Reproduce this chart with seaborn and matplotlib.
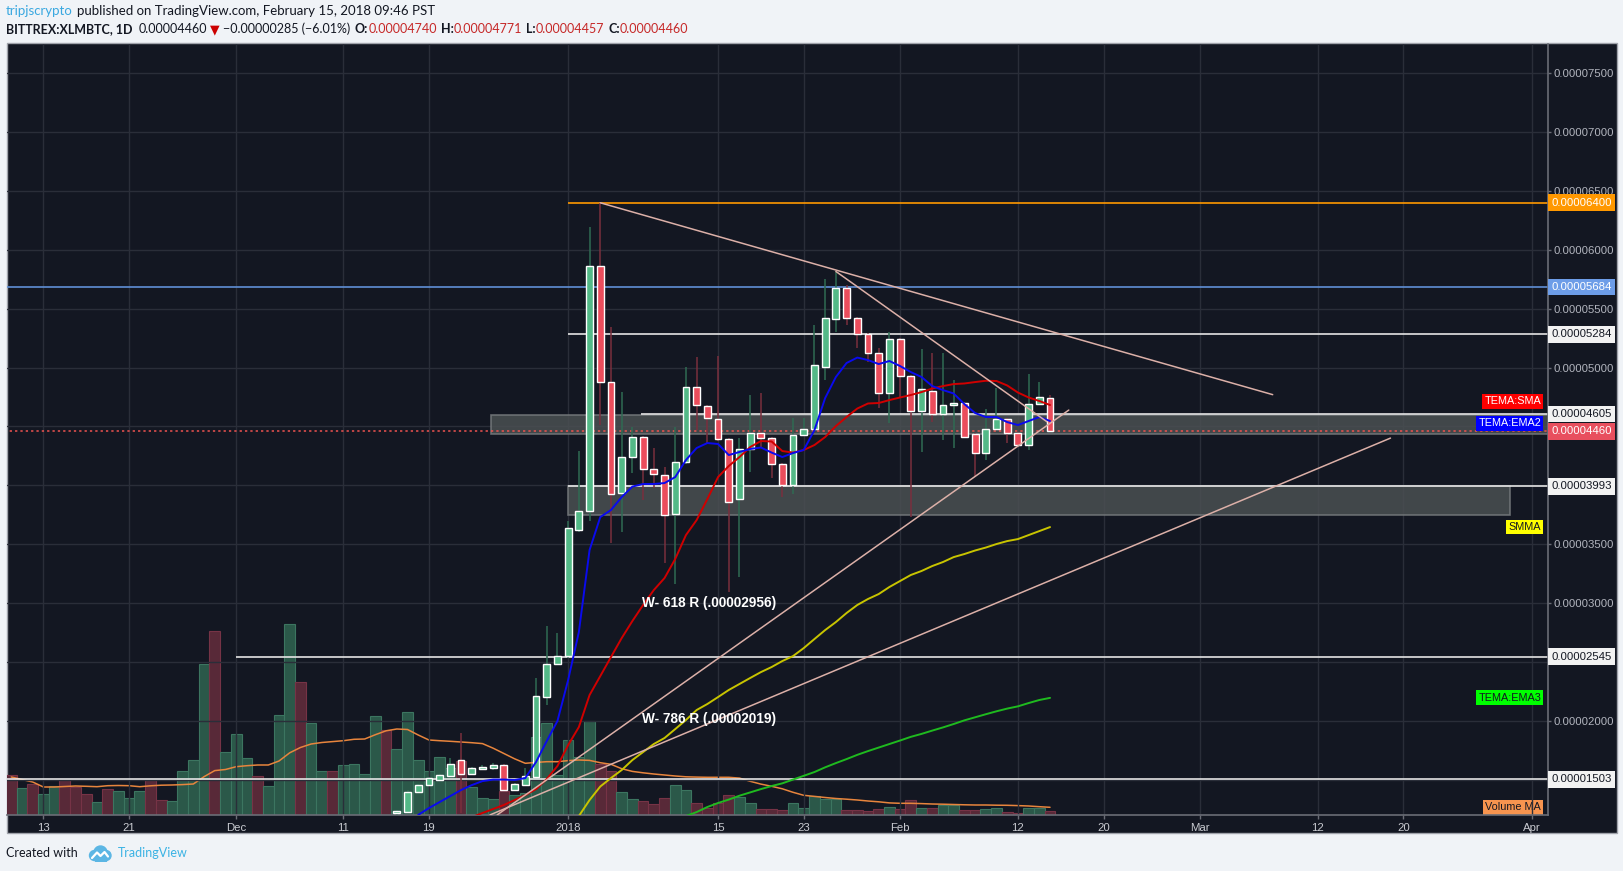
import numpy as np
import pandas as pd
import matplotlib
matplotlib.use("Agg")
import matplotlib.pyplot as plt
import matplotlib.dates as mdates
import matplotlib.transforms as mtransforms
from matplotlib.patches import Rectangle, Circle
import seaborn as sns

# ---- data (prices in satoshi, 1e-8 BTC) ----
candle_start = "2017-12-16"
c_open = [1215, 1227, 1396, 1453, 1496, 1530, 1666, 1547, 1589, 1595, 1623, 1411, 1453, 1524, 2201, 2481,
          2549, 3620, 3781, 5863, 4880, 3934, 4240, 4413, 4136, 4087, 3756, 4198, 4835, 4673, 4563, 4393,
          3883, 4308, 4444, 4402, 4181, 4002, 4427, 4478, 5005, 5413, 5676, 5421, 5285, 5126, 4783,
          5243, 4928, 4633, 4801, 4605, 4679, 4701, 4436, 4277, 4478, 4563, 4444, 4342, 4690, 4740]
c_high = [1245, 1410, 1465, 1525, 1550, 1683, 1898, 1610, 1620, 1640, 1630, 1470, 1598, 2363, 2804, 2745,
          3700, 4291, 6197, 6400, 5347, 4795, 4498, 4420, 4317, 4158, 4498, 5007, 5092, 4680, 5101, 4400,
          4402, 4767, 4786, 4410, 4190, 4571, 4571, 5362, 5752, 5814, 5701, 5430, 5290, 5166, 5305,
          5250, 4935, 5158, 5124, 5126, 4894, 4710, 4445, 4648, 4826, 4570, 4450, 4945, 4880, 4771]
c_low = [1190, 1215, 1385, 1445, 1485, 1520, 1215, 1540, 1580, 1585, 1400, 1400, 1445, 1510, 2133, 2470,
         2530, 3600, 3700, 4512, 3510, 3605, 4104, 3875, 3977, 3337, 3160, 4180, 4469, 4359, 4380, 3090,
         3223, 4115, 4317, 4062, 3900, 3926, 4420, 4470, 4894, 5305, 5362, 5166, 5050, 4656, 4529,
         4752, 3733, 4285, 4540, 4385, 4317, 4400, 4073, 4215, 4470, 4359, 4330, 4300, 4680, 4457]
c_close = [1235, 1396, 1453, 1513, 1538, 1632, 1547, 1598, 1609, 1623, 1411, 1462, 1530, 2210, 2481, 2549,
           3637, 3781, 5863, 4880, 3926, 4243, 4413, 4136, 4096, 3747, 4198, 4835, 4682, 4571, 4393, 3858,
           4308, 4444, 4402, 4181, 4002, 4427, 4478, 5022, 5421, 5676, 5421, 5285, 5126, 4786, 5243,
           4928, 4633, 4818, 4605, 4682, 4701, 4413, 4277, 4478, 4563, 4444, 4342, 4690, 4752, 4460]

# TEMA indicator lines
ema2_start = "2017-12-18"
tema_ema2 = [1200, 1258, 1309, 1360, 1411, 1453, 1487, 1500, 1500, 1496, 1513, 1649, 1827, 1997,
             2346, 2753, 3450, 3730, 3790, 3900, 3989, 4011, 4011, 4019, 4070, 4215, 4317, 4359, 4351,
             4257, 4283, 4308, 4321, 4278, 4240, 4274, 4300, 4469, 4741, 4920, 5039, 5085, 5064, 5030,
             5056, 5013, 4962, 4920, 4843, 4809, 4780, 4690, 4614, 4580, 4580, 4537, 4512, 4546, 4580, 4546]
sma_start = "2017-12-23"
tema_sma = [1180, 1216, 1250, 1284, 1326, 1368, 1419, 1504, 1615, 1793, 1946, 2218, 2379, 2541, 2702,
            2847, 2983, 3110, 3212, 3374, 3577, 3705, 3883, 4070, 4164, 4240, 4325, 4376, 4372, 4291,
            4278, 4300, 4342, 4410, 4503, 4580, 4652, 4695, 4699, 4724, 4746, 4767, 4792, 4822, 4843,
            4860, 4865, 4877, 4888, 4886, 4848, 4788, 4746, 4716, 4682]
smma_start = "2018-01-02"
smma = [1190, 1326, 1441, 1513, 1581, 1666, 1734, 1802, 1853, 1929, 2006, 2091, 2142, 2201, 2261,
        2312, 2363, 2413, 2456, 2507, 2549, 2617, 2694, 2770, 2838, 2915, 2983, 3034, 3076, 3136,
        3187, 3238, 3272, 3314, 3348, 3390, 3416, 3446, 3471, 3501, 3526, 3543, 3577, 3611, 3645]
ema3_start = "2018-01-12"
tema_ema3 = [1190, 1224, 1267, 1301, 1330, 1363, 1391, 1419, 1445, 1468, 1500, 1532, 1564, 1604, 1640,
             1674, 1710, 1742, 1772, 1802, 1832, 1863, 1888, 1916, 1943, 1972, 2003, 2029, 2055, 2080,
             2103, 2122, 2150, 2176, 2194]

# volume (relative units) and its moving average
vol_start = "2017-11-10"
volume = [400, 270, 310, 210, 290, 350, 280, 210, 130, 260, 240, 170, 240, 350, 150, 140, 440, 550, 1510, 1840, 630,
          810, 570, 390, 290, 1000, 1910, 1330, 920, 440, 440, 500, 510, 410, 990, 850, 660, 1030, 550, 440, 580,
          470, 540, 280, 170, 160, 240, 200, 220, 780, 920, 400,
          750, 580, 940, 510, 440, 230, 160, 140, 110, 170, 300, 250, 120, 70, 120, 200, 180, 120, 60, 60,
          50, 120, 70, 190, 160, 160, 50, 50, 40, 60, 80,
          60, 150, 70, 70, 100, 100, 50, 50, 60, 70, 30, 20, 70, 70, 40]
vol_dir = ("DUDUUDDDUDUUUDDUUUUDU"
           "UUDUUUDUUDUUUUDUUUUUUDUUUDUUUUU"
           "UUUDDUUDDDUUDDDDUUDDDUUUUUDDDDU"
           "DDUDUUDDUUDDUUD")
volume_ma = [380, 355, 330, 280, 280, 285, 290, 287, 283, 293, 295, 293, 283, 292, 298, 300, 304, 310, 383, 444, 455,
             483, 493, 500, 500, 540, 622, 675, 710, 725, 734, 743, 757, 760, 803, 842, 860, 855, 800, 750, 743,
             737, 730, 723, 714, 668, 615, 562, 517, 526, 533, 533,
             544, 550, 546, 523, 507, 463, 436, 422, 410, 400, 390, 382, 379, 377, 377, 377, 369, 337, 309, 287,
             262, 227, 197, 186, 175, 165, 158, 150, 140, 132, 121,
             117, 117, 114, 110, 108, 105, 102, 100, 100, 98, 97, 94, 90, 83, 77]

# horizontal levels: (price, start, colour, label bg, label text colour, style)
levels = [
    (6400, "2018-01-01 00:00", "#ff9800", "#ff9800", "white", "-"),
    (5684, "2017-11-01 00:00", "#5f8fd6", "#6d9de8", "white", "-"),
    (5284, "2018-01-01 00:00", "#e4e4e4", "#f2f2f2", "#131722", "-"),
    (4605, "2018-01-07 20:00", "#e4e4e4", "#f2f2f2", "#131722", "-"),
    (4460, "2017-11-01 00:00", "#ef5350", "#e84f5e", "white", ":"),
    (3993, "2018-01-01 00:00", "#e4e4e4", "#f2f2f2", "#131722", "-"),
    (2545, "2017-12-01 00:00", "#e4e4e4", "#f2f2f2", "#131722", "-"),
    (1503, "2017-11-01 00:00", "#e4e4e4", "#f2f2f2", "#131722", "-"),
]
# zones: (start, end, low, high)
zones = [("2017-12-24 20:00", "2018-04-20", 4435, 4597),
         ("2018-01-01 00:00", "2018-03-29 22:00", 3745, 3993)]
# trend lines: ((date, price), (date, price))
trends = [(("2018-01-04 00:00", 6400), ("2018-03-07 19:00", 4770)),
          (("2018-01-26 00:00", 5817), ("2018-02-14 17:00", 4540)),
          (("2017-12-25 09:00", 1200), ("2018-02-16 18:00", 4639)),
          (("2017-12-24 17:00", 1200), ("2018-03-18 19:00", 4401))]

tick_dates = ["2017-11-13", "2017-11-21", "2017-12-01", "2017-12-11", "2017-12-19", "2018-01-01",
              "2018-01-15", "2018-01-23", "2018-02-01", "2018-02-12", "2018-02-20", "2018-03-01",
              "2018-03-12", "2018-03-20", "2018-04-01"]
tick_labels = ["13", "21", "Dec", "11", "19", "2018", "15", "23", "Feb", "12", "20", "Mar", "12", "20", "Apr"]
price_ticks = [1500, 2000, 2500, 3000, 3500, 4000, 4500, 5000, 5500, 6000, 6500, 7000, 7500]
covered_ticks = [1500, 2500, 4000, 4500]   # hidden behind price tags

# ---- style ----
sns.set_theme(style="dark")
plt.rcParams["font.family"] = ["Liberation Sans", "DejaVu Sans"]

W, H = 1624, 871
BG = "#131722"
UP, DOWN = "#53b987", "#eb4d5c"

fig = plt.figure(figsize=(W / 100, H / 100), dpi=100, facecolor="#f0f3f7")
fig.add_artist(Rectangle((7 / W, 1 - 833 / H), (1617 - 7) / W, (833 - 43) / H,
                         transform=fig.transFigure, facecolor=BG, edgecolor="#a0a3ab", lw=1, zorder=0))

ax = fig.add_axes([7 / W, 1 - 815 / H, (1548 - 7) / W, (815 - 44) / H])
ax_vol = ax.twinx()
ax.set_zorder(2)
ax_vol.set_zorder(1)
ax.patch.set_visible(False)
ax_vol.patch.set_visible(False)
ax.yaxis.tick_right()

# volume
vol_dates = pd.date_range(vol_start, periods=len(volume))
vfc = ["#2b5849" if d == "U" else "#582938" for d in vol_dir]
vec = ["#3c7560" if d == "U" else "#763346" for d in vol_dir]
ax_vol.bar(vol_dates, volume, width=1.0, color=vfc, edgecolor=vec, linewidth=0.8)
sns.lineplot(x=vol_dates, y=volume_ma, ax=ax_vol, color="#e8853d", linewidth=1.1)
ax_vol.set_ylim(0, 7710)
ax_vol.yaxis.set_visible(False)
for s in ax_vol.spines.values():
    s.set_visible(False)

# zones and levels
for start, end, lo, hi in zones:
    x0 = mdates.date2num(pd.Timestamp(start))
    x1 = mdates.date2num(pd.Timestamp(end))
    ax.add_patch(Rectangle((x0, lo), x1 - x0, hi - lo, facecolor="#4a5052", alpha=0.85,
                           edgecolor="#75797c", lw=1.2, zorder=1))
blend = mtransforms.blended_transform_factory(ax.transAxes, ax.transData)
for price, start, col, bg, tc, ls in levels:
    ax.hlines(price, pd.Timestamp(start), pd.Timestamp("2018-05-01"), colors=col,
              linestyles=ls if ls == "-" else (0, (1.5, 2)), lw=1.2 if ls == "-" else 1.1, zorder=1.6)
    ax.text(1.0022, price, f"{price * 1e-8:.8f}", transform=blend, ha="left", va="center",
            fontsize=8.2, color=tc, clip_on=False, zorder=10,
            bbox=dict(boxstyle="square,pad=0.3", fc=bg, ec="none"))

# candles
c_dates = pd.date_range(candle_start, periods=len(c_open))
o, h, l, c = map(np.array, (c_open, c_high, c_low, c_close))
up = c >= o
ax.vlines(c_dates, l, h, colors=np.where(up, "#2f6b53", "#7a2f3d"), lw=1.1, zorder=3)
ax.bar(c_dates, np.maximum(np.abs(c - o), 8), bottom=np.minimum(o, c), width=0.64,
       color=np.where(up, UP, DOWN), zorder=4)

# indicator lines
sns.lineplot(x=pd.date_range(smma_start, periods=len(smma)), y=smma, ax=ax,
             color="#c8c400", linewidth=1.4, zorder=5)
sns.lineplot(x=pd.date_range(ema3_start, periods=len(tema_ema3)), y=tema_ema3, ax=ax,
             color="#1fba1f", linewidth=1.4, zorder=5)
sns.lineplot(x=pd.date_range(sma_start, periods=len(tema_sma)), y=tema_sma, ax=ax,
             color="#d00000", linewidth=1.4, zorder=5)
sns.lineplot(x=pd.date_range(ema2_start, periods=len(tema_ema2)), y=tema_ema2, ax=ax,
             color="#0a0aee", linewidth=1.4, zorder=5)

for (d0, p0), (d1, p1) in trends:
    ax.plot([pd.Timestamp(d0), pd.Timestamp(d1)], [p0, p1], color="#dcb0a8", lw=1.1, zorder=6)

ax.text(pd.Timestamp("2018-01-07 22:00"), 3000, "W- 618 R (.00002956)", color="white",
        fontsize=9.8, fontweight="bold", va="center", ha="left", zorder=7)
ax.text(pd.Timestamp("2018-01-07 22:00"), 2014, "W- 786 R (.00002019)", color="white",
        fontsize=9.8, fontweight="bold", va="center", ha="left", zorder=7)

# indicator name tags at last value
def inner_tag(axis, val, text, bg, tc):
    tr = mtransforms.blended_transform_factory(axis.transAxes, axis.transData)
    axis.text(0.9955, val, text, transform=tr, ha="right", va="center", fontsize=7.8, color=tc,
              zorder=11, bbox=dict(boxstyle="square,pad=0.22", fc=bg, ec="none"))

inner_tag(ax, tema_sma[-1] + 30, "TEMA:SMA", "#ff0000", "white")
inner_tag(ax, tema_ema2[-1] - 20, "TEMA:EMA2", "#0000ff", "white")
inner_tag(ax, smma[-1], "SMMA", "#ffff00", "#131722")
inner_tag(ax, tema_ema3[-1], "TEMA:EMA3", "#00ff00", "#131722")
inner_tag(ax_vol, volume_ma[-1], "Volume MA", "#f7944f", "#131722")

# axes styling
ax.set_xlim(pd.Timestamp("2017-11-09 14:24"), pd.Timestamp("2018-04-02 12:00"))
ax.set_ylim(1199, 7749)
ax.set_yticks(price_ticks)
ax.yaxis.set_major_formatter(matplotlib.ticker.FuncFormatter(
    lambda v, p: "" if round(v) in covered_ticks else f"{v * 1e-8:.8f}"))
ax.set_xticks([pd.Timestamp(d) for d in tick_dates])
ax.set_xticklabels(tick_labels)
ax.set_xlabel("")
ax.set_ylabel("")
ax.grid(True, color="#2a2e39", lw=1)
ax.tick_params(axis="x", length=3, width=1, color="#6a6d76", labelcolor="#c9cbd1",
               labelsize=8.2, pad=3, bottom=True)
ax.tick_params(axis="y", length=2.5, width=1, color="#6a6d76", labelcolor="#b2b5be",
               labelsize=8.2, pad=1.5, right=True, left=False)
for name, s in ax.spines.items():
    s.set_visible(name in ("right", "bottom"))
    s.set_color("#6a6d76")
    s.set_linewidth(1.2)

# header
renderer = fig.canvas.get_renderer()

def text_run(x_px, y_px, pieces, size):
    x = x_px
    for s, color, weight, gap in pieces:
        t = fig.text(x / W, 1 - y_px / H, s, color=color, fontweight=weight, fontsize=size,
                     family=["Lato", "DejaVu Sans"], ha="left", va="center")
        x = t.get_window_extent(renderer=renderer).x1 + gap

DARK = "#131722"
RED = "#c62828"
text_run(6, 11, [("tripjscrypto", "#3aa8e0", "normal", 4),
                 ("published on TradingView.com, February 15, 2018 09:46 PST", DARK, "normal", 0)], 9.5)
text_run(6, 29, [("BITTREX:XLMBTC, 1D", DARK, "bold", 6),
                 ("0.00004460", DARK, "normal", 3),
                 ("\u25bc", "#cc0000", "normal", 3),
                 ("\u22120.00000285 (\u22126.01%)", DARK, "normal", 5),
                 ("O:", DARK, "bold", 0), ("0.00004740", RED, "normal", 4),
                 ("H:", DARK, "bold", 0), ("0.00004771", RED, "normal", 4),
                 ("L:", DARK, "bold", 0), ("0.00004457", RED, "normal", 4),
                 ("C:", DARK, "bold", 0), ("0.00004460", RED, "normal", 0)], 9.0)

# footer with logo
fig.text(6 / W, 1 - 853 / H, "Created with", color=DARK, fontsize=9, family=["Lato", "DejaVu Sans"],
         ha="left", va="center")
fig.text(118 / W, 1 - 853 / H, "TradingView", color="#3bb3e4", fontsize=9,
         family=["Lato", "DejaVu Sans"], ha="left", va="center")
ax_logo = fig.add_axes([88 / W, 1 - 862 / H, 24 / W, 18 / H])
ax_logo.set_xlim(0, 24)
ax_logo.set_ylim(0, 18)
ax_logo.axis("off")
for cx, cy, r in [(6.5, 6.5, 5), (12.5, 9.5, 6.5), (18, 6.5, 5)]:
    ax_logo.add_patch(Circle((cx, cy), r, color="#5cb6e4"))
ax_logo.add_patch(Rectangle((6.5, 1.5), 11.5, 5, color="#5cb6e4"))
ax_logo.plot([4, 9, 12.5, 16.5, 20], [4, 9.5, 6, 10, 5.5], color="white", lw=1.6)

fig.savefig("out.png", dpi=100, facecolor=fig.get_facecolor())
